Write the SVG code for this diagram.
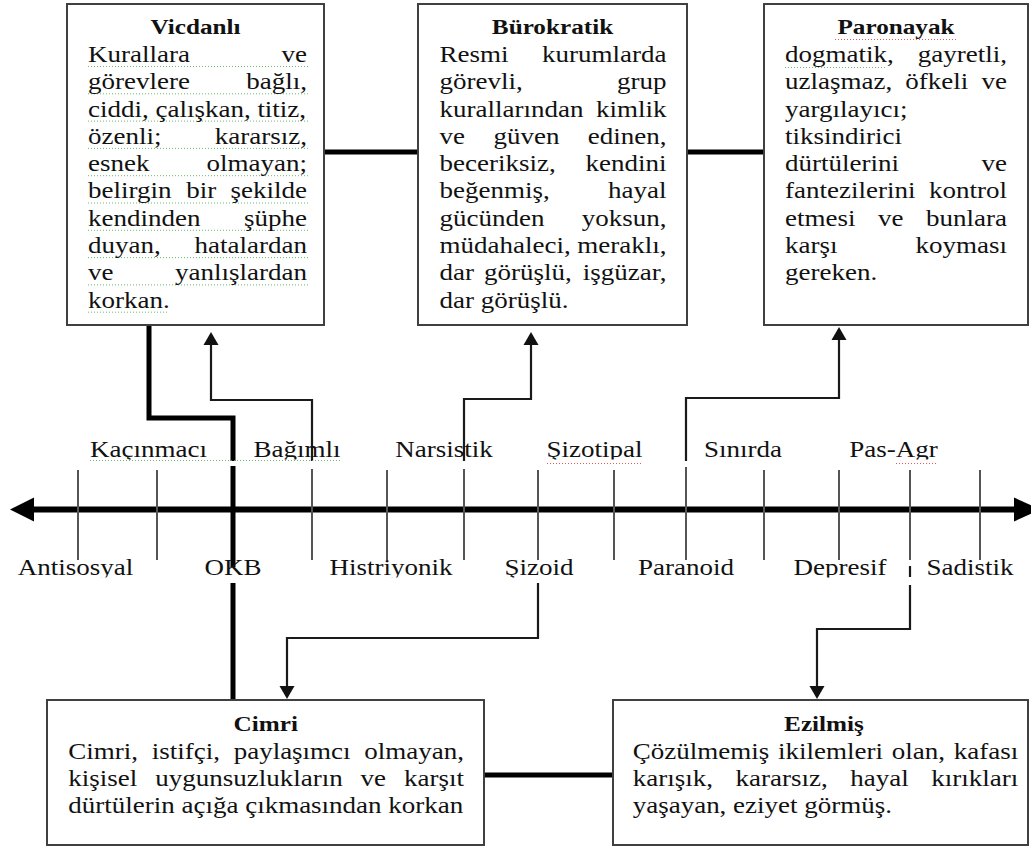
<svg xmlns="http://www.w3.org/2000/svg" width="1031" height="849" viewBox="0 0 1031 849">
  <defs>
    <style>
      .box { fill: #ffffff; stroke: #404040; stroke-width: 2; }
      .t { font-family: "Liberation Serif", "Times New Roman", serif; font-size: 22.5px; fill: #111; }
      .h { font-family: "Liberation Serif", "Times New Roman", serif; font-size: 21px; font-weight: bold; fill: #111; text-anchor: middle; }
      .m { text-anchor: middle; }
      .r { text-anchor: end; }
      .thick { fill: none; stroke: #000; stroke-width: 5; stroke-linejoin: miter; }
      .thin { fill: none; stroke: #1a1a1a; stroke-width: 2.2; }
      .tick { stroke: #555; stroke-width: 2; }
      .green { stroke: #4caf50; stroke-width: 1; stroke-dasharray: 1 2; fill: none; opacity: 0.85; }
      .red { stroke: #e53935; stroke-width: 1; stroke-dasharray: 1 2; fill: none; opacity: 0.85; }
    </style>
    <marker id="arrow" markerUnits="userSpaceOnUse" markerWidth="14" markerHeight="16" viewBox="0 -8 14 16" refX="0" refY="0" orient="auto">
      <path d="M0,-7.5 L13,0 L0,7.5 Z" fill="#111"/>
    </marker>
    <clipPath id="clipUpper" clipPathUnits="userSpaceOnUse">
      <rect x="0" y="420" width="1031" height="39.5"/>
    </clipPath>
    <clipPath id="clipLower" clipPathUnits="userSpaceOnUse">
      <rect x="0" y="540" width="1031" height="37.5"/>
    </clipPath>
  </defs>

  <rect width="1031" height="849" fill="#ffffff"/>

  <!-- connectors -->
  <g id="connectors">
    <!-- links between the top boxes and between the bottom boxes -->
    <line class="thick" x1="324" y1="152" x2="418" y2="152"/>
    <line class="thick" x1="687" y1="152" x2="764" y2="152"/>
    <line class="thick" x1="484" y1="775" x2="613" y2="775"/>
    <!-- Vicdanlı down through OKB to Cimri -->
    <polyline class="thick" points="149,325 149,418 233,418 233,461"/>
    <line class="thick" x1="233" y1="466" x2="233" y2="567"/>
    <line class="thick" x1="233" y1="583" x2="233" y2="700"/>
    <!-- Bağımlı to Vicdanlı -->
    <polyline class="thin" points="312,461 312,400 211,400 211,345" marker-end="url(#arrow)"/>
    <!-- Narsistik to Bürokratik -->
    <polyline class="thin" points="464,461 464,399 531,399 531,345" marker-end="url(#arrow)"/>
    <!-- Paranoid to Paronayak -->
    <polyline class="thin" points="686,461 686,398 839,398 839,340" marker-end="url(#arrow)"/>
    <!-- Şizoid to Cimri -->
    <polyline class="thin" points="538,583 538,638 287,638 287,686" marker-end="url(#arrow)"/>
    <!-- Pas-Agr to Ezilmiş -->
    <line class="thin" x1="910" y1="566" x2="910" y2="577"/>
    <polyline class="thin" points="910,585 910,629 817,629 817,686" marker-end="url(#arrow)"/>
  </g>

  <!-- spectrum axis -->
  <g id="axis">
    <line x1="30" y1="509.5" x2="1016" y2="509.5" stroke="#000" stroke-width="6"/>
    <polygon points="10,509.5 34,497.5 34,521.5" fill="#000"/>
    <polygon points="1040,509.5 1014,497.5 1014,521.5" fill="#000"/>
    <line class="tick" x1="78" y1="470" x2="78" y2="560"/>
    <line class="tick" x1="157" y1="470" x2="157" y2="560"/>
    <line class="tick" x1="312" y1="469" x2="312" y2="560"/>
    <line class="tick" x1="387" y1="470" x2="387" y2="560"/>
    <line class="tick" x1="464" y1="469" x2="464" y2="560"/>
    <line class="tick" x1="538" y1="470" x2="538" y2="560"/>
    <line class="tick" x1="614" y1="470" x2="614" y2="560"/>
    <line class="tick" x1="686" y1="467" x2="686" y2="560"/>
    <line class="tick" x1="764" y1="470" x2="764" y2="560"/>
    <line class="tick" x1="839" y1="470" x2="839" y2="560"/>
    <line class="tick" x1="910" y1="470" x2="910" y2="560"/>
    <line class="tick" x1="980" y1="470" x2="980" y2="560"/>

    <!-- proofing marks under the upper labels -->
    <line class="green" x1="90" y1="460.5" x2="340" y2="460.5"/>
    <line class="red" x1="547" y1="463.5" x2="642" y2="463.5"/>
    <line class="red" x1="896" y1="463.5" x2="938" y2="463.5"/>

    <g clip-path="url(#clipUpper)">
      <g transform="scale(1.2 1)">
        <text class="t m" x="123.75" y="457">Kaçınmacı</text>
        <text class="t m" x="247.5" y="457">Bağımlı</text>
        <text class="t m" x="370" y="457">Narsistik</text>
        <text class="t m" x="495.42" y="457">Şizotipal</text>
        <text class="t m" x="619.17" y="457">Sınırda</text>
        <text class="t m" x="744.58" y="457">Pas-Agr</text>
      </g>
    </g>
    <g clip-path="url(#clipLower)">
      <g transform="scale(1.2 1)">
        <text class="t m" x="62.92" y="575">Antisosyal</text>
        <text class="t m" x="194.17" y="575">OKB</text>
        <text class="t m" x="325.83" y="575">Histriyonik</text>
        <text class="t m" x="449.17" y="575">Şizoid</text>
        <text class="t m" x="571.67" y="575">Paranoid</text>
        <text class="t m" x="700" y="575">Depresif</text>
        <text class="t m" x="808.33" y="575">Sadistik</text>
      </g>
    </g>
  </g>

  <!-- Vicdanlı -->
  <g id="vicdanli">
    <rect class="box" x="67" y="4" width="257" height="321"/>
    <g>
      <line class="green" x1="88" y1="66.5" x2="310" y2="66.5"/>
      <line class="green" x1="88" y1="93.8" x2="310" y2="93.8"/>
      <line class="green" x1="88" y1="121.1" x2="310" y2="121.1"/>
      <line class="green" x1="88" y1="148.4" x2="310" y2="148.4"/>
      <line class="green" x1="88" y1="175.7" x2="310" y2="175.7"/>
      <line class="green" x1="88" y1="203" x2="310" y2="203"/>
      <line class="green" x1="88" y1="230.3" x2="310" y2="230.3"/>
      <line class="green" x1="88" y1="257.6" x2="310" y2="257.6"/>
      <line class="green" x1="88" y1="284.9" x2="310" y2="284.9"/>
      <line class="green" x1="88" y1="312.2" x2="168" y2="312.2"/>
    </g>
    <g transform="scale(1.2 1)">
      <text class="h" x="162.92" y="34">Vicdanlı</text>
      <text class="t" x="73.33" y="62">Kurallara</text><text class="t r" x="255.83" y="62">ve</text>
      <text class="t" x="73.33" y="89.3">görevlere</text><text class="t r" x="255.83" y="89.3">bağlı,</text>
      <text class="t" x="73.33" y="116.6">ciddi, çalışkan, titiz,</text>
      <text class="t" x="73.33" y="143.9">özenli;</text><text class="t r" x="255.83" y="143.9">kararsız,</text>
      <text class="t" x="73.33" y="171.2">esnek</text><text class="t r" x="255.83" y="171.2">olmayan;</text>
      <text class="t" x="73.33" y="198.5">belirgin</text><text class="t m" x="167.7" y="198.5">bir</text><text class="t r" x="255.83" y="198.5">şekilde</text>
      <text class="t" x="73.33" y="225.8">kendinden</text><text class="t r" x="255.83" y="225.8">şüphe</text>
      <text class="t" x="73.33" y="253.1">duyan,</text><text class="t r" x="255.83" y="253.1">hatalardan</text>
      <text class="t" x="73.33" y="280.4">ve</text><text class="t r" x="255.83" y="280.4">yanlışlardan</text>
      <text class="t" x="73.33" y="307.7">korkan.</text>
    </g>
  </g>

  <!-- Bürokratik -->
  <g id="burokratik">
    <rect class="box" x="418" y="4" width="269" height="321"/>
    <g transform="scale(1.2 1)">
      <text class="h" x="460.42" y="34">Bürokratik</text>
      <text class="t" x="366.25" y="62">Resmi</text><text class="t r" x="555.42" y="62">kurumlarda</text>
      <text class="t" x="366.25" y="89.3">görevli,</text><text class="t r" x="555.42" y="89.3">grup</text>
      <text class="t" x="366.25" y="116.6">kurallarından</text><text class="t r" x="555.42" y="116.6">kimlik</text>
      <text class="t" x="366.25" y="143.9">ve</text><text class="t m" x="438.7" y="143.9">güven</text><text class="t r" x="555.42" y="143.9">edinen,</text>
      <text class="t" x="366.25" y="171.2">beceriksiz,</text><text class="t r" x="555.42" y="171.2">kendini</text>
      <text class="t" x="366.25" y="198.5">beğenmiş,</text><text class="t r" x="555.42" y="198.5">hayal</text>
      <text class="t" x="366.25" y="225.8">gücünden</text><text class="t r" x="555.42" y="225.8">yoksun,</text>
      <text class="t" x="366.25" y="253.1">müdahaleci,</text><text class="t r" x="555.42" y="253.1">meraklı,</text>
      <text class="t" x="366.25" y="280.4">dar</text><text class="t m" x="439.9" y="280.4">görüşlü,</text><text class="t r" x="555.42" y="280.4">işgüzar,</text>
      <text class="t" x="366.25" y="307.7">dar görüşlü.</text>
    </g>
  </g>

  <!-- Paronayak -->
  <g id="paronayak">
    <rect class="box" x="764" y="4" width="264" height="321"/>
    <line class="red" x1="835" y1="39.5" x2="957" y2="39.5"/>
    <line class="green" x1="785" y1="67.5" x2="885" y2="67.5"/>
    <g transform="scale(1.2 1)">
      <text class="h" x="746.67" y="34">Paronayak</text>
      <text class="t" x="654.17" y="62">dogmatik,</text><text class="t r" x="839.17" y="62">gayretli,</text>
      <text class="t" x="654.17" y="89.3">uzlaşmaz,</text><text class="t m" x="780.7" y="89.3">öfkeli</text><text class="t r" x="839.17" y="89.3">ve</text>
      <text class="t" x="654.17" y="116.6">yargılayıcı;</text>
      <text class="t" x="654.17" y="143.9">tiksindirici</text>
      <text class="t" x="654.17" y="171.2">dürtülerini</text><text class="t r" x="839.17" y="171.2">ve</text>
      <text class="t" x="654.17" y="198.5">fantezilerini</text><text class="t r" x="839.17" y="198.5">kontrol</text>
      <text class="t" x="654.17" y="225.8">etmesi</text><text class="t m" x="742.3" y="225.8">ve</text><text class="t r" x="839.17" y="225.8">bunlara</text>
      <text class="t" x="654.17" y="253.1">karşı</text><text class="t r" x="839.17" y="253.1">koyması</text>
      <text class="t" x="654.17" y="280.4">gereken.</text>
    </g>
  </g>

  <!-- Cimri -->
  <g id="cimri">
    <rect class="box" x="47" y="700" width="437" height="145"/>
    <g transform="scale(1.2 1)">
      <text class="h" x="221.5" y="731">Cimri</text>
      <text class="t" x="56.92" y="759">Cimri,</text><text class="t m" x="154.9" y="759">istifçi,</text><text class="t m" x="243.45" y="759">paylaşımcı</text><text class="t r" x="386.67" y="759">olmayan,</text>
      <text class="t" x="56.92" y="786">kişisel</text><text class="t m" x="207.5" y="786">uygunsuzlukların</text><text class="t m" x="311.1" y="786">ve</text><text class="t r" x="386.67" y="786">karşıt</text>
      <text class="t" x="56.92" y="813">dürtülerin açığa çıkmasından korkan</text>
    </g>
  </g>

  <!-- Ezilmiş -->
  <g id="ezilmis">
    <rect class="box" x="613" y="700" width="415" height="145"/>
    <g transform="scale(1.2 1)">
      <text class="h" x="686.67" y="731">Ezilmiş</text>
      <text class="t" x="527.25" y="759">Çözülmemiş</text><text class="t m" x="692.1" y="759">ikilemleri</text><text class="t m" x="765.3" y="759">olan,</text><text class="t r" x="848.58" y="759">kafası</text>
      <text class="t" x="527.25" y="786">karışık,</text><text class="t m" x="651.3" y="786">kararsız,</text><text class="t m" x="732.9" y="786">hayal</text><text class="t r" x="848.58" y="786">kırıkları</text>
      <text class="t" x="527.25" y="813">yaşayan, eziyet görmüş.</text>
    </g>
  </g>
</svg>
